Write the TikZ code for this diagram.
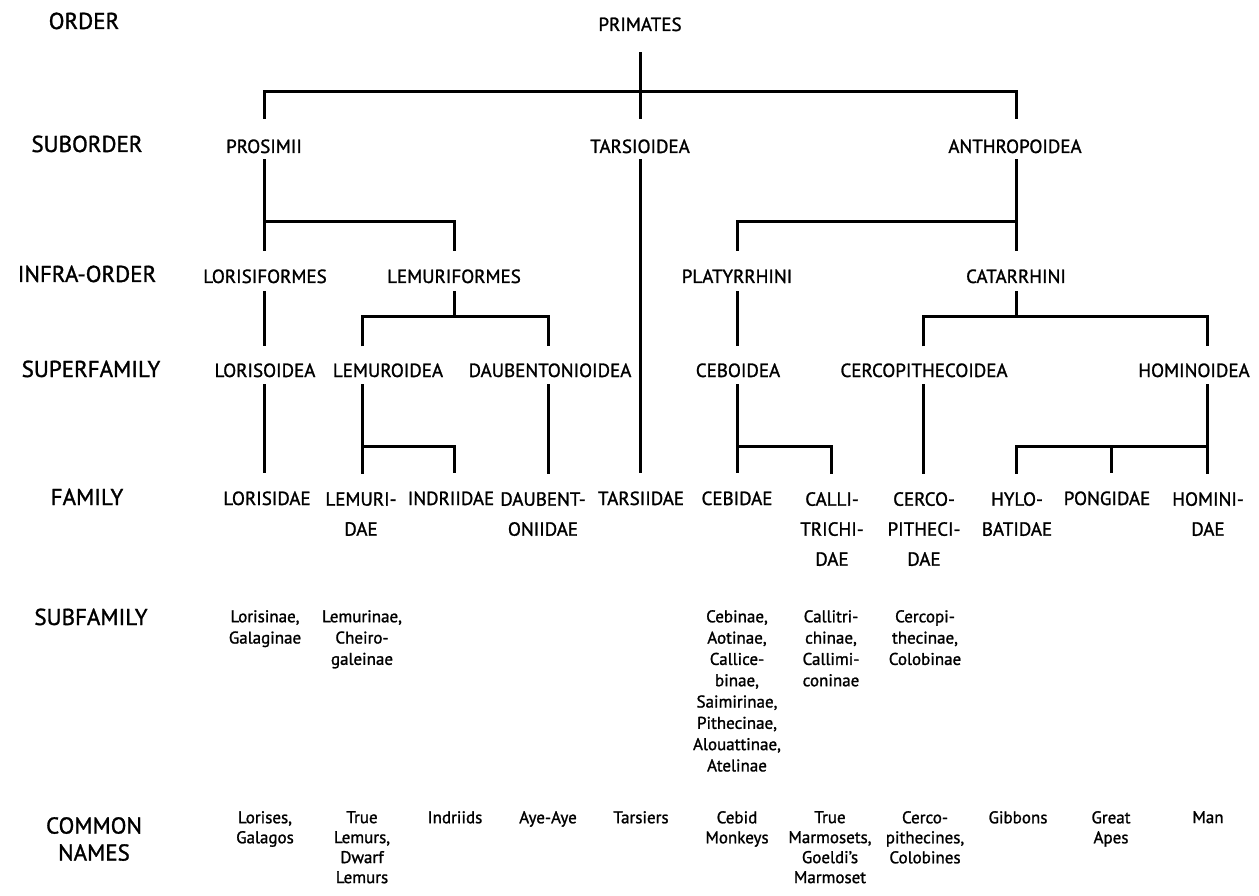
\documentclass[tikz,border=0pt]{standalone}
\usepackage{fontspec}
\setmainfont{PT Sans}[FakeBold=1.3]
\begin{document}
\begin{tikzpicture}[x=1pt,y=-1pt,
  lab/.style={font=\fontsize{23}{27}\selectfont, inner sep=0pt, anchor=base},
  labm/.style={font=\fontsize{23}{27}\selectfont, inner sep=0pt, anchor=north, align=center},
  tx/.style={font=\fontsize{19}{30}\selectfont, inner sep=0pt, anchor=base},
  txm/.style={font=\fontsize{19}{30}\selectfont, inner sep=0pt, anchor=north, align=center},
  subf/.style={font=\fontsize{17}{21.3}\selectfont, inner sep=0pt, anchor=north, align=center},
  cmnames/.style={font=\fontsize{17}{20}\selectfont, inner sep=0pt, anchor=north, align=center},
  ln/.style={line width=3pt, line join=miter}]
\fill[white] (0,0) rectangle (1259,896);
\useasboundingbox (0,0) rectangle (1259,896);
% columns and bar levels
\coordinate (c1) at (264,0);
\coordinate (c2) at (362,0);
\coordinate (c3) at (454,0);
\coordinate (c4) at (548,0);
\coordinate (c5) at (640,0);
\coordinate (c6) at (737,0);
\coordinate (c7) at (831,0);
\coordinate (c8) at (923,0);
\coordinate (c9) at (1016,0);
\coordinate (c10) at (1111,0);
\coordinate (c11) at (1207,0);
\coordinate (b1) at (0,92);
\coordinate (b2) at (0,222);
\coordinate (b3) at (0,316);
\coordinate (b4) at (0,446);
% row labels
\node[lab] (ordl) at (84,29) {ORDER};
\node[lab] (subordl) at (87,152) {SUBORDER};
\node[lab] (infral) at (87,282) {INFRA-ORDER};
\node[lab] (superl) at (91,377) {SUPERFAMILY};
\node[lab] (faml) at (87,505) {FAMILY};
\node[lab] (subfaml) at (91,625) {SUBFAMILY};
\node[labm] (commonl) at (94,817) {COMMON\\NAMES};
% order / suborder
\node[tx] (primates) at (640,31) {PRIMATES};
\node[tx] (prosimii) at (264,153) {PROSIMII};
\node[tx] (tarsioidea) at (640,153) {TARSIOIDEA};
\node[tx] (anthropoidea) at (1015,153) {ANTHROPOIDEA};
% infra-order
\node[tx] (lorisiformes) at (265,283) {LORISIFORMES};
\node[tx] (lemuriformes) at (454,283) {LEMURIFORMES};
\node[tx] (platyrrhini) at (737,283) {PLATYRRHINI};
\node[tx] (catarrhini) at (1016,283) {CATARRHINI};
% superfamily
\node[tx] (lorisoidea) at (265,377) {LORISOIDEA};
\node[tx] (lemuroidea) at (388,377) {LEMUROIDEA};
\node[tx] (daubentonioidea) at (550,377) {DAUBENTONIOIDEA};
\node[tx] (ceboidea) at (738,377) {CEBOIDEA};
\node[tx] (cercopithecoidea) at (924,377) {CERCOPITHECOIDEA};
\node[tx] (hominoidea) at (1194,377) {HOMINOIDEA};
% family
\node[tx] (lorisidae) at (267,505) {LORISIDAE};
\node[txm] (lemuridae) at (361,492) {LEMURI-\\DAE};
\node[tx] (indriidae) at (451,505) {INDRIIDAE};
\node[txm] (daubentoniidae) at (543,492) {DAUBENT-\\ONIIDAE};
\node[tx] (tarsiidae) at (641,505) {TARSIIDAE};
\node[tx] (cebidae) at (737,505) {CEBIDAE};
\node[txm] (callitrichidae) at (832,492) {CALLI-\\TRICHI-\\DAE};
\node[txm] (cercopithecidae) at (924,492) {CERCO-\\PITHECI-\\DAE};
\node[txm] (hylobatidae) at (1017,492) {HYLO-\\BATIDAE};
\node[tx] (pongidae) at (1107,505) {PONGIDAE};
\node[txm] (hominidae) at (1208,492) {HOMINI-\\DAE};
% subfamily
\node[subf] (sf1) at (265,610) {Lorisinae,\\Galaginae};
\node[subf] (sf2) at (362,610) {Lemurinae,\\Cheiro-\\galeinae};
\node[subf] (sf6) at (737,610) {Cebinae,\\Aotinae,\\Callice-\\binae,\\Saimirinae,\\Pithecinae,\\Alouattinae,\\Atelinae};
\node[subf] (sf7) at (831,610) {Callitri-\\chinae,\\Callimi-\\coninae};
\node[subf] (sf8) at (925,610) {Cercopi-\\thecinae,\\Colobinae};
% common names
\node[cmnames] (cn1) at (265,811) {Lorises,\\Galagos};
\node[cmnames] (cn2) at (362,811) {True\\Lemurs,\\Dwarf\\Lemurs};
\node[cmnames] (cn3) at (455,811) {Indriids};
\node[cmnames] (cn4) at (548,811) {Aye-Aye};
\node[cmnames] (cn5) at (641,811) {Tarsiers};
\node[cmnames] (cn6) at (737,811) {Cebid\\Monkeys};
\node[cmnames] (cn7) at (830,811) {True\\Marmosets,\\Goeldi's\\Marmoset};
\node[cmnames] (cn8) at (925,811) {Cerco-\\pithecines,\\Colobines};
\node[cmnames] (cn9) at (1018,811) {Gibbons};
\node[cmnames] (cn10) at (1111,811) {Great\\Apes};
\node[cmnames] (cn11) at (1208,811) {Man};
% connectors: order -> suborder
\draw[ln, shorten <=21pt, shorten >=20pt] (c5 |- primates.south) -- (c5 |- tarsioidea.north);
\draw[ln, shorten >=20pt] (c5 |- b1) -| (c1 |- prosimii.north);
\draw[ln, shorten >=20pt] (c5 |- b1) -| (c9 |- anthropoidea.north);
% suborder -> infra-order
\draw[ln, shorten <=6pt, shorten >=18pt] (c1 |- prosimii.south) -- (c1 |- lorisiformes.north);
\draw[ln, shorten >=18pt] (c1 |- b2) -| (c3 |- lemuriformes.north);
\draw[ln, shorten <=6pt, shorten >=18pt] (c9 |- anthropoidea.south) -- (c9 |- catarrhini.north);
\draw[ln, shorten >=18pt] (c9 |- b2) -| (c6 |- platyrrhini.north);
\draw[ln, shorten <=6pt, shorten >=18pt] (c5 |- tarsioidea.south) -- (c5 |- tarsiidae.north);
% infra-order -> superfamily
\draw[ln, shorten <=8pt, shorten >=17pt] (c1 |- lorisiformes.south) -- (c1 |- lorisoidea.north);
\draw[ln, shorten <=8pt] (c3 |- lemuriformes.south) -- (c3 |- b3);
\draw[ln, shorten <=17pt, shorten >=17pt] (c2 |- lemuroidea.north) |- (c4 |- b3) -- (c4 |- daubentonioidea.north);
\draw[ln, shorten <=8pt, shorten >=17pt] (c6 |- platyrrhini.south) -- (c6 |- ceboidea.north);
\draw[ln, shorten <=8pt] (c9 |- catarrhini.south) -- (c9 |- b3);
\draw[ln, shorten <=17pt, shorten >=17pt] (c8 |- cercopithecoidea.north) |- (c11 |- b3) -- (c11 |- hominoidea.north);
% superfamily -> family
\draw[ln, shorten <=7pt, shorten >=18pt] (c1 |- lorisoidea.south) -- (c1 |- lorisidae.north);
\draw[ln, shorten <=7pt, shorten >=18pt] (c2 |- lemuroidea.south) -- (c2 |- lemuridae.north);
\draw[ln, shorten >=18pt] (c2 |- b4) -| (c3 |- indriidae.north);
\draw[ln, shorten <=7pt, shorten >=18pt] (c4 |- daubentonioidea.south) -- (c4 |- daubentoniidae.north);
\draw[ln, shorten <=7pt, shorten >=18pt] (c6 |- ceboidea.south) -- (c6 |- cebidae.north);
\draw[ln, shorten >=18pt] (c6 |- b4) -| (c7 |- callitrichidae.north);
\draw[ln, shorten <=7pt, shorten >=18pt] (c8 |- cercopithecoidea.south) -- (c8 |- cercopithecidae.north);
\draw[ln, shorten <=7pt, shorten >=18pt] (c11 |- hominoidea.south) -- (c11 |- hominidae.north);
\draw[ln, shorten >=18pt] (c11 |- b4) -| (c9 |- hylobatidae.north);
\draw[ln, shorten >=18pt] (c10 |- b4) -- (c10 |- pongidae.north);
\end{tikzpicture}
\end{document}
